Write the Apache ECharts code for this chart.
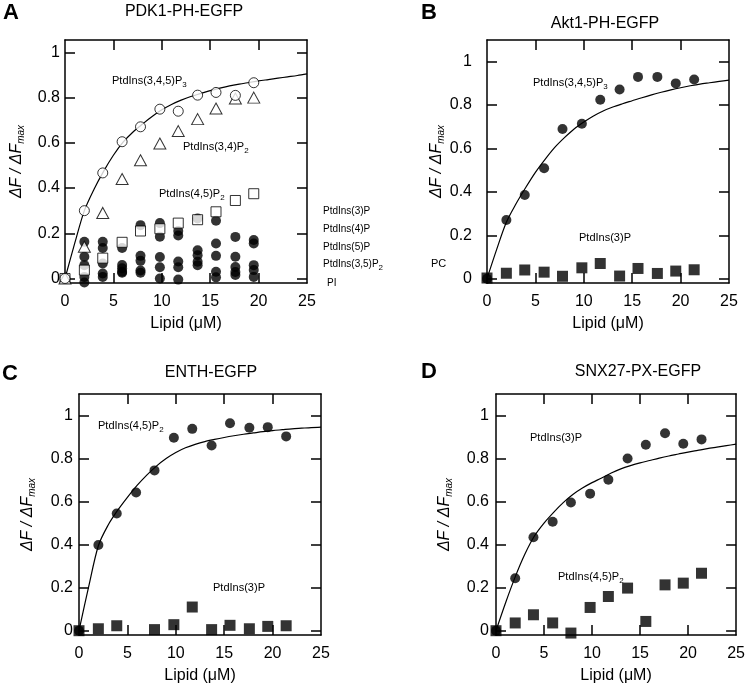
<!DOCTYPE html>
<html>
<head>
<meta charset="utf-8">
<script src="https://cdn.jsdelivr.net/npm/echarts@6/dist/echarts.min.js"></script>
<style>
html,body{margin:0;padding:0;background:#fff;}
#chart{width:748px;height:685px;}
</style>
</head>
<body>
<div id="chart"></div>
<script>
// lipid concentrations (uM)
var lipidA = [0, 2, 3.9, 5.9, 7.8, 9.8, 11.7, 13.7, 15.6, 17.6, 19.5];
var lipid = [0, 2, 3.9, 5.9, 7.8, 9.8, 11.7, 13.7, 15.6, 17.6, 19.5, 21.4];
var fitX = [0, 1, 2, 3, 4, 5, 6, 7, 8, 9, 10, 11, 12, 13, 14, 15, 16, 17, 18, 19, 20, 21, 22, 23, 24, 25];
var xTicks = [5, 10, 15, 20];
var xLabels = [0, 5, 10, 15, 20, 25];
var yTicks = [0, 0.2, 0.4, 0.6, 0.8, 1];

// A: PDK1-PH-EGFP
var aPIP3 = [0, 0.30, 0.467, 0.605, 0.671, 0.749, 0.74, 0.811, 0.823, 0.81, 0.866];
var aPI34P2 = [0, 0.14, 0.29, 0.44, 0.523, 0.597, 0.652, 0.705, 0.752, 0.796, 0.80];
var aPI45P2 = [0, 0.037, 0.09, 0.16, 0.21, 0.22, 0.245, 0.26, 0.295, 0.345, 0.375];
var aPI3P = [0, 0.162, 0.162, 0.135, 0.236, 0.245, 0.21, 0.265, 0.255, 0.184, 0.17];
var aPI4P = [0, 0.096, 0.135, 0.06, 0.10, 0.185, 0.19, 0.125, 0.155, 0.096, 0.155];
var aPI5P = [0, 0.059, 0.066, 0.045, 0.078, 0.095, 0.075, 0.103, 0.10, 0.051, 0.059];
var aPI35P2 = [0, 0.007, 0.022, 0.03, 0.035, 0.05, 0.05, 0.074, 0.03, 0.029, 0.037];
var aPI = [0, -0.018, 0.007, 0.025, 0.025, 0.0, -0.005, 0.059, 0.005, 0.015, 0.007];
var fitA = [0, 0.155, 0.30, 0.395, 0.475, 0.545, 0.603, 0.647, 0.683, 0.717, 0.746, 0.77, 0.789, 0.805, 0.818, 0.831, 0.842, 0.852, 0.86, 0.867, 0.874, 0.88, 0.886, 0.892, 0.898, 0.905];

// B: Akt1-PH-EGFP
var bPIP3 = [0, 0.27, 0.386, 0.509, 0.69, 0.714, 0.825, 0.872, 0.93, 0.93, 0.90, 0.918];
var bPI3P = [0.003, 0.025, 0.04, 0.03, 0.011, 0.05, 0.07, 0.012, 0.047, 0.024, 0.035, 0.041];
var fitB = [0, 0.135, 0.26, 0.345, 0.42, 0.49, 0.55, 0.605, 0.65, 0.69, 0.722, 0.75, 0.773, 0.791, 0.806, 0.82, 0.834, 0.847, 0.859, 0.87, 0.88, 0.889, 0.897, 0.903, 0.909, 0.915];

// C: ENTH-EGFP
var cPI45P2 = [0, 0.398, 0.545, 0.642, 0.745, 0.897, 0.938, 0.861, 0.964, 0.943, 0.946, 0.903];
var cPI3P = [0, 0.009, 0.023, null, 0.005, 0.028, 0.11, 0.005, 0.025, 0.009, 0.02, 0.023];
var fitC = [0, 0.205, 0.395, 0.49, 0.56, 0.62, 0.675, 0.723, 0.765, 0.8, 0.828, 0.85, 0.866, 0.879, 0.889, 0.898, 0.906, 0.913, 0.919, 0.925, 0.93, 0.934, 0.938, 0.941, 0.944, 0.946];

// D: SNX27-PX-EGFP
var dPI3P = [0, 0.244, 0.434, 0.506, 0.596, 0.637, 0.702, 0.80, 0.864, 0.918, 0.869, 0.889];
var dPI45P2 = [0, 0.036, 0.074, 0.036, -0.011, 0.108, 0.159, 0.198, 0.043, 0.213, 0.221, 0.267];
var fitD = [0, 0.13, 0.25, 0.355, 0.44, 0.5, 0.55, 0.595, 0.633, 0.663, 0.688, 0.71, 0.733, 0.752, 0.767, 0.78, 0.791, 0.802, 0.812, 0.821, 0.83, 0.838, 0.846, 0.853, 0.86, 0.867];

var FONT = 'Liberation Sans, Arial, Helvetica, sans-serif';

function pairs(xs, ys){
    var out = [];
    for(var i=0;i<xs.length;i++){
        if(ys[i]!=null) out.push([xs[i], ys[i]]);
    }
    return out;
}

var grids = [
    {left:65, top:40, width:242, height:243, ymax:1.055, ymargin:5, ygap:39},
    {left:487, top:40, width:242, height:243, ymax:1.1, ymargin:15, ygap:40},
    {left:79, top:394, width:242, height:241, ymax:1.1, ymargin:6, ygap:42},
    {left:496, top:394, width:242, height:241, ymax:1.1, ymargin:7, ygap:42}
];

var frameLine = {show:true, onZero:false, lineStyle:{color:'#000', width:1.5}};
var gridOpts=[], xAxes=[], yAxes=[];
grids.forEach(function(g, i){
    gridOpts.push({left:g.left, top:g.top, width:g.width, height:g.height});
    xAxes.push({
        type:'value', gridIndex:i, min:0, max:25, position:'bottom',
        name:'Lipid (\u03bcM)', nameLocation:'middle', nameGap:33,
        nameTextStyle:{fontFamily:FONT, fontSize:16, color:'#000'},
        axisLine:frameLine, splitLine:{show:false},
        axisTick:{show:true, inside:true, length:10, customValues:xTicks, lineStyle:{color:'#000', width:1.5}},
        axisLabel:{show:true, customValues:xLabels, margin:11, fontFamily:FONT, fontSize:16, color:'#000'}
    });
    xAxes.push({
        type:'value', gridIndex:i, min:0, max:25, position:'top',
        axisLine:frameLine, splitLine:{show:false},
        axisTick:{show:true, inside:true, length:10, customValues:xTicks, lineStyle:{color:'#000', width:1.5}},
        axisLabel:{show:false}
    });
    yAxes.push({
        type:'value', gridIndex:i, min:-0.02, max:g.ymax, position:'left',
        name:'{m|\u0394F / \u0394F}{s|max}', nameLocation:'middle', nameGap:g.ygap,
        nameTextStyle:{color:'#000', rich:{
            m:{fontFamily:FONT, fontSize:16, fontStyle:'italic', color:'#000'},
            s:{fontFamily:FONT, fontSize:10, fontStyle:'italic', color:'#000', padding:[9,0,0,0]}
        }},
        axisLine:frameLine, splitLine:{show:false},
        axisTick:{show:true, inside:true, length:10, customValues:yTicks, lineStyle:{color:'#000', width:1.5}},
        axisLabel:{show:true, customValues:yTicks, margin:g.ymargin, fontFamily:FONT, fontSize:16, color:'#000',
            formatter:function(v){ return String(Math.round(v*10)/10); }}
    });
    yAxes.push({
        type:'value', gridIndex:i, min:-0.02, max:g.ymax, position:'right',
        axisLine:frameLine, splitLine:{show:false},
        axisTick:{show:true, inside:true, length:10, customValues:yTicks, lineStyle:{color:'#000', width:1.5}},
        axisLabel:{show:false}
    });
});

function fit(i, ys){
    return {type:'line', xAxisIndex:2*i, yAxisIndex:2*i, data:pairs(fitX, ys),
        showSymbol:false, smooth:0.3, silent:true, z:1,
        lineStyle:{color:'#000', width:1.2}};
}
function dots(i, xs, ys, symbol, size, open){
    return {type:'scatter', xAxisIndex:2*i, yAxisIndex:2*i, data:pairs(xs, ys),
        symbol:symbol, symbolSize:size, z:open?3:2,
        itemStyle: open ? {color:'#fff', borderColor:'#000', borderWidth:1} : {color:'#000'}};
}

var series = [
    fit(0, fitA),
    dots(0, lipidA, aPI3P, 'circle', 10, false),
    dots(0, lipidA, aPI4P, 'circle', 10, false),
    dots(0, lipidA, aPI5P, 'circle', 10, false),
    dots(0, lipidA, aPI35P2, 'circle', 10, false),
    dots(0, lipidA, aPI, 'circle', 10, false),
    dots(0, lipidA, aPI45P2, 'rect', 10, true),
    dots(0, lipidA, aPI34P2, 'triangle', [12,11], true),
    dots(0, lipidA, aPIP3, 'circle', 10, true),
    fit(1, fitB),
    dots(1, lipid, bPIP3, 'circle', 10, false),
    dots(1, lipid, bPI3P, 'rect', 11, false),
    fit(2, fitC),
    dots(2, lipid, cPI45P2, 'circle', 10, false),
    dots(2, lipid, cPI3P, 'rect', 11, false),
    fit(3, fitD),
    dots(3, lipid, dPI3P, 'circle', 10, false),
    dots(3, lipid, dPI45P2, 'rect', 11, false)
];

var subRich = {s:{fontFamily:FONT, fontSize:8, fill:'#000', padding:[7,0,0,0]}};
function note(x, y, text, size){
    return {type:'text', x:x, y:y, z:10, style:{text:text, fill:'#000',
        font:(size||11)+'px '+FONT, verticalAlign:'middle', rich:subRich}};
}
function heading(x, y, text){
    return {type:'text', x:x, y:y, style:{text:text, fill:'#000', font:'16px '+FONT,
        align:'center', verticalAlign:'middle'}};
}
function letter(x, y, text){
    return {type:'text', x:x, y:y, style:{text:text, fill:'#000', font:'bold 22px '+FONT,
        verticalAlign:'middle'}};
}

var graphics = [
    letter(3, 13, 'A'), heading(184, 12, 'PDK1-PH-EGFP'),
    letter(421, 13, 'B'), heading(605, 24, 'Akt1-PH-EGFP'),
    letter(2, 374, 'C'), heading(211, 373, 'ENTH-EGFP'),
    letter(421, 372, 'D'), heading(638, 372, 'SNX27-PX-EGFP'),
    note(112, 81, 'PtdIns(3,4,5)P{s|3}'),
    note(183, 147, 'PtdIns(3,4)P{s|2}'),
    note(159, 194, 'PtdIns(4,5)P{s|2}'),
    note(323, 211, 'PtdIns(3)P', 10),
    note(323, 229, 'PtdIns(4)P', 10),
    note(323, 247, 'PtdIns(5)P', 10),
    note(323, 264, 'PtdIns(3,5)P{s|2}', 10),
    note(327, 283, 'PI', 10),
    note(533, 83, 'PtdIns(3,4,5)P{s|3}'),
    note(579, 238, 'PtdIns(3)P'),
    note(431, 264, 'PC'),
    note(98, 426, 'PtdIns(4,5)P{s|2}'),
    note(213, 588, 'PtdIns(3)P'),
    note(530, 438, 'PtdIns(3)P'),
    note(558, 577, 'PtdIns(4,5)P{s|2}')
];

var chart = echarts.init(document.getElementById('chart'));
chart.setOption({
    animation:false,
    backgroundColor:'#fff',
    grid:gridOpts,
    xAxis:xAxes,
    yAxis:yAxes,
    series:series,
    graphic:graphics
});
</script>
</body>
</html>
